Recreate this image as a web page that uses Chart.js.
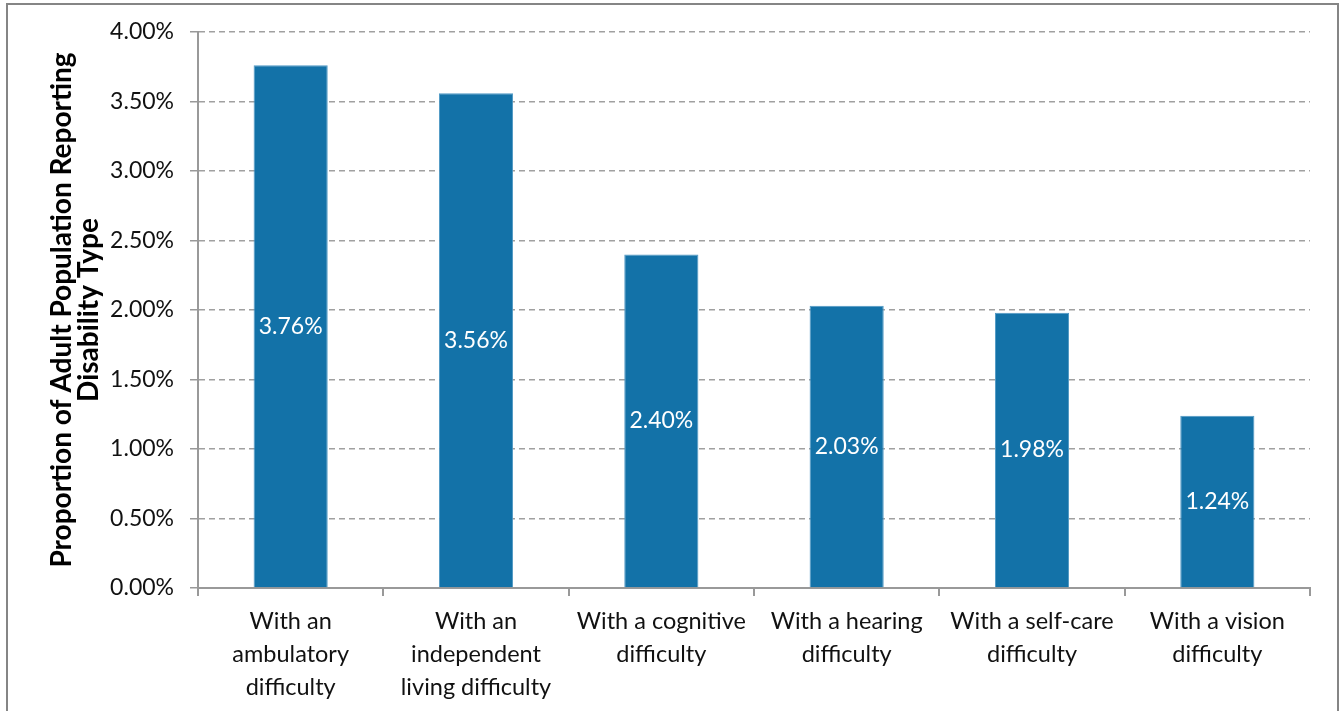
<!DOCTYPE html>
<html>
<head>
<meta charset="utf-8">
<script src="https://cdn.jsdelivr.net/npm/chart.js@4/dist/chart.umd.min.js"></script>
<style>
  html, body { margin: 0; padding: 0; background: #fff; }
  canvas { display: block; }
</style>
</head>
<body>
<canvas id="disabilityChart" width="1344" height="711"></canvas>
<script>
// disability types (multi-line labels) and share of adults reporting each, in %
const categories = [
  ["With an", "ambulatory", "difficulty"],
  ["With an", "independent", "living difficulty"],
  ["With a cognitive", "difficulty"],
  ["With a hearing", "difficulty"],
  ["With a self-care", "difficulty"],
  ["With a vision", "difficulty"]
];
const shares = [3.76, 3.56, 2.40, 2.03, 1.98, 1.24];
const yTitle = ["Proportion of Adult Population Reporting", "Disability Type"];

const FONT = "Lato, 'DejaVu Sans', sans-serif";
const barBlue = "#1372a8";
const axisGray = "#999999";

// grey frame around the figure
const framePlugin = {
  id: "frame",
  beforeDraw(chart) {
    const ctx = chart.ctx;
    ctx.save();
    ctx.strokeStyle = "#858585";
    ctx.lineWidth = 2;
    ctx.strokeRect(7, 4, 1331, 720);
    ctx.restore();
  }
};

// white value label centred inside each bar
const barLabels = {
  id: "barLabels",
  afterDatasetsDraw(chart) {
    const ctx = chart.ctx;
    const meta = chart.getDatasetMeta(0);
    ctx.save();
    ctx.fillStyle = "#ffffff";
    ctx.font = "23px " + FONT;
    ctx.textAlign = "center";
    ctx.textBaseline = "middle";
    meta.data.forEach((bar, i) => {
      const v = chart.data.datasets[0].data[i];
      ctx.fillText(v.toFixed(2) + "%", bar.x, (bar.y + bar.base) / 2);
    });
    ctx.restore();
  }
};

new Chart(document.getElementById("disabilityChart"), {
  type: "bar",
  data: {
    labels: categories,
    datasets: [{
      data: shares,
      backgroundColor: barBlue,
      borderColor: "#4f98c4",
      borderWidth: 1,
      barPercentage: 0.4,
      categoryPercentage: 1.0
    }]
  },
  options: {
    responsive: false,
    animation: false,
    layout: { padding: { left: 6, top: 32, right: 34, bottom: 0 } },
    plugins: {
      legend: { display: false },
      tooltip: { enabled: false }
    },
    scales: {
      x: {
        offset: true,
        grid: {
          offset: true,
          drawOnChartArea: false,
          drawTicks: true,
          tickLength: 8,
          color: axisGray,
          lineWidth: 2
        },
        border: { color: axisGray, width: 2 },
        ticks: {
          color: "#111",
          padding: 9,
          maxRotation: 0,
          autoSkip: false,
          font: { family: FONT, size: 23.5, lineHeight: 1.4 }
        },
        afterFit(scale) { scale.height = 123; }
      },
      y: {
        min: 0,
        max: 4,
        ticks: {
          stepSize: 0.5,
          color: "#111",
          padding: 16,
          font: { family: FONT, size: 23 },
          callback: v => v.toFixed(2) + "%"
        },
        grid: {
          color: "#a0a0a0",
          lineWidth: 1.5,
          tickBorderDash: [],
          tickColor: axisGray,
          tickLength: 8
        },
        // dash applies to the horizontal grid lines
        border: { color: axisGray, width: 2, dash: [6, 4] },
        title: {
          display: true,
          text: yTitle,
          color: "#000",
          padding: { top: 42, bottom: 0 },
          font: { family: FONT, size: 28, weight: "bold", lineHeight: 0.97 }
        },
        afterFit(scale) { scale.width = 192; }
      }
    }
  },
  plugins: [framePlugin, barLabels]
});
</script>
</body>
</html>
